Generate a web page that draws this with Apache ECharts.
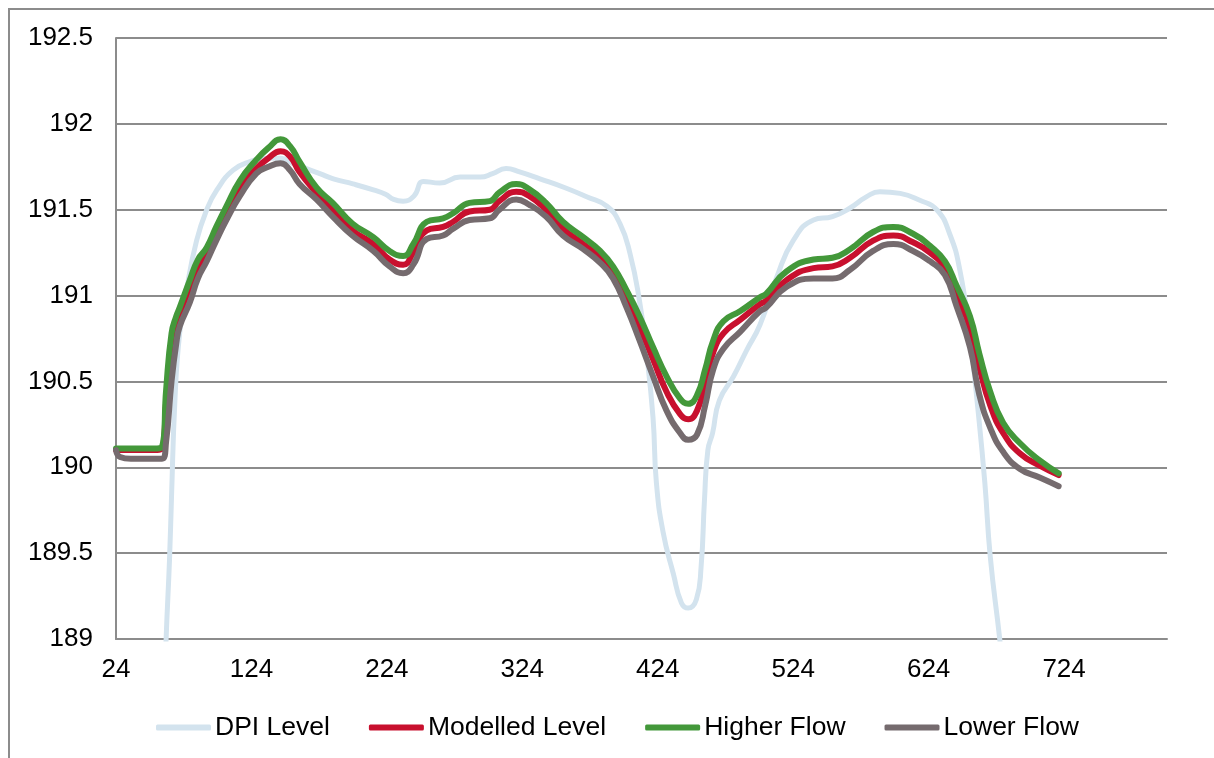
<!DOCTYPE html>
<html>
<head>
<meta charset="utf-8">
<script src="https://cdn.jsdelivr.net/npm/echarts@6/dist/echarts.min.js"></script>
<style>
html,body{margin:0;padding:0;background:#fff;}
#c{width:1214px;height:758px;}
</style>
</head>
<body>
<div id="c"></div>
<script>
// ---- data ----
const xTickLabels = [24, 124, 224, 324, 424, 524, 624, 724];
const yTickLabels = [189, 189.5, 190, 190.5, 191, 191.5, 192, 192.5];
const seriesNames = ['DPI Level', 'Modelled Level', 'Higher Flow', 'Lower Flow'];

const hours = [24, 27, 35, 45, 52, 58, 61, 65, 68.5, 71, 78.5, 84.5, 91, 98, 105.5, 115.5, 127.5, 136.5, 145.5, 152.5, 159.5, 172, 184, 198.5, 214, 226, 236, 243.5, 253.5, 265.5, 273, 285, 300, 307, 319.5, 329, 341.5, 354, 369, 381.5, 391, 401, 410.5, 420.5, 430.5, 440.5, 446.5, 453, 459, 465, 472.5, 485, 499.5, 504, 519, 539, 553, 566, 583, 598, 612.5, 625, 636, 644.5, 654.5, 661.5, 669.5, 679, 691.5, 706, 720];

const higherFlow = [190.11, 190.11, 190.11, 190.11, 190.11, 190.12, 190.45, 190.78, 190.88, 190.93, 191.09, 191.21, 191.28, 191.40, 191.52, 191.67, 191.79, 191.86, 191.91, 191.87, 191.78, 191.63, 191.54, 191.42, 191.34, 191.26, 191.23, 191.30, 191.43, 191.45, 191.48, 191.54, 191.55, 191.60, 191.65, 191.62, 191.54, 191.43, 191.34, 191.26, 191.17, 191.03, 190.88, 190.70, 190.53, 190.40, 190.37, 190.42, 190.57, 190.74, 190.85, 190.91, 190.99, 191.01, 191.14, 191.21, 191.22, 191.27, 191.37, 191.40, 191.36, 191.29, 191.20, 191.06, 190.88, 190.66, 190.44, 190.26, 190.14, 190.04, 189.965];

const modelledLevel = [190.10, 190.10, 190.10, 190.10, 190.10, 190.11, 190.38, 190.72, 190.83, 190.89, 191.05, 191.17, 191.24, 191.36, 191.48, 191.63, 191.74, 191.80, 191.84, 191.81, 191.72, 191.60, 191.50, 191.38, 191.30, 191.21, 191.18, 191.25, 191.38, 191.40, 191.43, 191.49, 191.50, 191.55, 191.605, 191.58, 191.50, 191.39, 191.30, 191.22, 191.13, 190.98, 190.82, 190.63, 190.44, 190.31, 190.28, 190.33, 190.49, 190.67, 190.78, 190.86, 190.95, 190.97, 191.09, 191.16, 191.17, 191.22, 191.32, 191.35, 191.31, 191.25, 191.16, 191.01, 190.81, 190.58, 190.36, 190.20, 190.08, 190.01, 189.955];

const lowerFlow = [190.10, 190.06, 190.05, 190.05, 190.05, 190.05, 190.15, 190.50, 190.72, 190.82, 190.96, 191.10, 191.20, 191.32, 191.44, 191.58, 191.71, 191.75, 191.77, 191.73, 191.65, 191.56, 191.46, 191.35, 191.26, 191.17, 191.13, 191.18, 191.33, 191.35, 191.39, 191.44, 191.45, 191.50, 191.56, 191.53, 191.46, 191.35, 191.27, 191.19, 191.10, 190.93, 190.74, 190.53, 190.33, 190.20, 190.16, 190.19, 190.36, 190.57, 190.69, 190.79, 190.91, 190.93, 191.05, 191.10, 191.10, 191.15, 191.26, 191.30, 191.26, 191.20, 191.12, 190.94, 190.70, 190.42, 190.23, 190.09, 189.99, 189.94, 189.89];

const dpiHours = [60, 61, 63.5, 65, 67.5, 71, 76, 83.5, 91, 98.5, 110.5, 123, 135.5, 145.5, 154.5, 164.5, 174.5, 184.5, 199, 214, 223, 229, 236, 244, 251, 263, 278, 293, 302, 312, 322, 337, 356.5, 371.5, 386.5, 396, 403.5, 410.5, 415.5, 420.5, 423, 428, 435.5, 441.5, 446.5, 452.5, 456, 458.5, 461, 464.5, 469.5, 480, 489.5, 499.5, 512, 524, 539, 553, 566, 578, 588, 603, 617.5, 630, 639.5, 647, 654.5, 660.5, 665.5, 669.5, 676.5, 679];
const dpiLevel = [188.7, 189.0, 189.46, 189.83, 190.39, 190.78, 191.03, 191.32, 191.50, 191.615, 191.73, 191.78, 191.80, 191.80, 191.77, 191.74, 191.71, 191.68, 191.65, 191.615, 191.59, 191.56, 191.55, 191.58, 191.665, 191.655, 191.69, 191.69, 191.71, 191.74, 191.72, 191.68, 191.625, 191.575, 191.52, 191.42, 191.245, 190.97, 190.68, 190.29, 189.91, 189.62, 189.38, 189.21, 189.18, 189.23, 189.42, 189.81, 190.10, 190.20, 190.39, 190.53, 190.68, 190.83, 191.11, 191.32, 191.44, 191.46, 191.51, 191.575, 191.605, 191.595, 191.555, 191.50, 191.36, 191.15, 190.76, 190.33, 189.91, 189.48, 189.0, 188.8];

// ---- chart ----
const pair = (xs, ys) => xs.map((x, i) => [x, ys[i]]);
const FONT = '"Liberation Sans", Arial, sans-serif';
const GRID_C = '#8c8c8c';
const colors = ['#d3e3ee', '#c8102e', '#43983a', '#756b6e'];

const chart = echarts.init(document.getElementById('c'), null, {renderer: 'canvas'});
const mkLine = (name, data, color, width) => ({
  name, type: 'line', data, symbol: 'none', smooth: 0.5,
  clip: true, lineStyle: {color, width, cap: 'round', join: 'round'}, itemStyle: {color},
  emphasis: {disabled: true}, animation: false
});

chart.setOption({
  animation: false,
  color: colors,
  textStyle: {fontFamily: FONT},
  graphic: [{
    type: 'rect', silent: true, z: -1,
    shape: {x: 9, y: 9, width: 1400, height: 1000},
    style: {fill: 'none', stroke: GRID_C, lineWidth: 2}
  }],
  grid: {left: 116, top: 38, right: 47, bottom: 119, containLabel: false},
  xAxis: {
    type: 'value', min: 24, max: 800,
    axisLine: {show: true, lineStyle: {color: GRID_C, width: 2}},
    axisTick: {show: false},
    splitLine: {show: false},
    axisLabel: {
      customValues: xTickLabels, margin: 18,
      color: '#000', fontSize: 26, fontFamily: FONT
    }
  },
  yAxis: {
    type: 'value', min: yTickLabels[0], max: yTickLabels[yTickLabels.length - 1], interval: 0.5,
    axisLine: {show: true, lineStyle: {color: GRID_C, width: 2}},
    axisTick: {show: false},
    splitLine: {show: true, lineStyle: {color: GRID_C, width: 2}},
    axisLabel: {
      margin: 23, color: '#000', fontSize: 26, fontFamily: FONT,
      formatter: v => String(v)
    }
  },
  legend: {
    data: seriesNames, left: 156, top: 714, padding: 0,
    icon: 'roundRect', itemWidth: 55, itemHeight: 6, itemGap: 39,
    textStyle: {color: '#000', fontSize: 26.5, fontFamily: FONT, padding: [0, 0, 0, -1]}
  },
  series: [
    mkLine(seriesNames[0], pair(dpiHours, dpiLevel), colors[0], 5),
    mkLine(seriesNames[1], pair(hours, modelledLevel), colors[1], 6),
    mkLine(seriesNames[2], pair(hours, higherFlow), colors[2], 6),
    mkLine(seriesNames[3], pair(hours, lowerFlow), colors[3], 6)
  ]
});
</script>
</body>
</html>
